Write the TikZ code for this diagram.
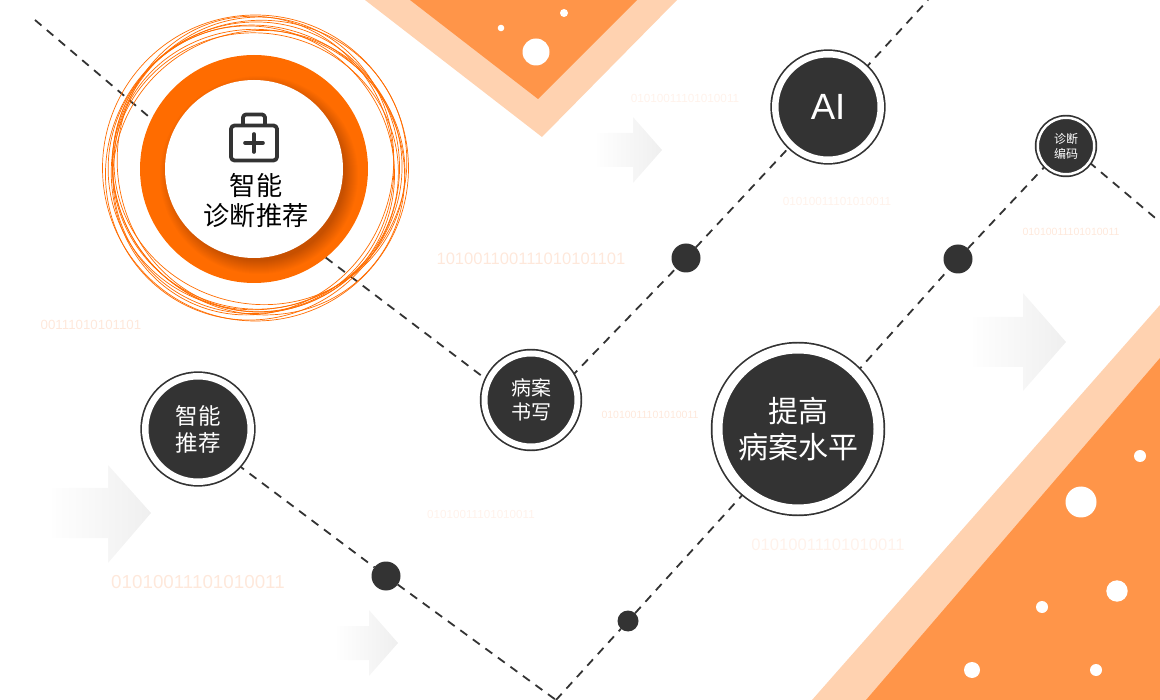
\documentclass[tikz,border=0pt]{standalone}
\usepackage{fontspec}
\usepackage{xcolor}
\usepackage{tikz}
\usetikzlibrary{backgrounds}
\setmainfont{Noto Sans CJK SC}
\newfontfamily\binfont{Liberation Sans}
\definecolor{ink}{HTML}{333333}
\definecolor{flame}{HTML}{FF6C00}
\definecolor{peach}{HTML}{FF9549}
\definecolor{cream}{HTML}{FFD2B0}
\definecolor{bitsoft}{HTML}{FEE8DB}
\definecolor{bitpale}{HTML}{FFF2EB}
\definecolor{ghost}{HTML}{EFEFEF}
\definecolor{ghostfade}{HTML}{FEFEFE}

\begin{document}
\begin{tikzpicture}[
  x=1pt,y=-1pt,
  hub/.style 2 args={circle,fill=ink,draw=ink,line width=1.7pt,double=white,
                     double distance=#2,inner sep=0pt,outer sep=0pt,
                     minimum size=#1,align=center,text=white},
  dot/.style={circle,fill=ink,inner sep=0pt,outer sep=0pt,minimum size=#1},
  speck/.style={circle,fill=white,inner sep=0pt,outer sep=0pt,minimum size=#1},
  bits/.style={font=\binfont\fontsize{#1}{#1}\selectfont,inner sep=0pt},
  label/.style 2 args={font=\fontsize{#1}{#2}\selectfont},
  trail/.style={draw=ink,line width=1.8pt,dash pattern=on 8.5pt off 7pt},
  ghostarrow/.style={left color=ghostfade,right color=ghost,draw=none},
  scribble/.style={draw=flame,line width=0.7pt},
  tool/.style={draw=ink,line width=3.8pt,line join=round},
]
\useasboundingbox (0,0) rectangle (1160,700);

% stations
\node[circle,fill=flame,inner sep=0pt,outer sep=0pt,minimum size=228pt] (diag) at (254,169) {};
\foreach \r in {86,87,...,99}
  \fill[black,opacity=0.015] (259,175) circle (\r);
\node[circle,fill=white,inner sep=0pt,outer sep=0pt,minimum size=178pt] (diagin) at (254,169) {};
\node[hub={105.5pt}{6.5pt}] (ai) at (828,107) {\binfont\fontsize{36.5}{36.5}\selectfont AI};
\node[hub={56.5pt}{2.5pt},label={12}{15}] (code) at (1066,146) {诊断\\编码};
\node[hub={93pt}{6pt},label={20}{24}] (record) at (531,400) {病案\\书写};
\node[hub={105.5pt}{6.5pt},label={22.5}{27}] (recommend) at (198,429) {智能\\推荐};
\node[hub={161pt}{10pt},label={30}{36}] (raise) at (798,429) {提高\\病案水平};

\node[dot=29pt] (dota) at (686,258) {};
\node[dot=29pt] (dotb) at (958,259) {};
\node[dot=29pt] (dotc) at (386,576) {};
\node[dot=21pt] (dotd) at (628,621) {};

\coordinate (entry) at (35,20);
\coordinate (valley) at (556,700);
\coordinate (topexit) at (928,0);
\coordinate (sideexit) at (1160,222);

\begin{scope}[on background layer]
  % corner shapes
  \fill[cream] (365,0) -- (677,0) -- (542,137) -- cycle;
  \fill[peach] (410,0) -- (637,0) -- (538,99) -- cycle;
  \fill[cream] (1160,305) -- (1160,700) -- (812,700) -- cycle;
  \fill[peach] (1160,358) -- (1160,700) -- (866,700) -- cycle;

  % faint arrows
  \shade[ghostarrow] (597,133) -- (633,133) -- (633,117) -- (662,150) -- (633,183) -- (633,167) -- (597,167) -- cycle;
  \shade[ghostarrow] (973,317) -- (1023,317) -- (1023,293) -- (1066,342) -- (1023,391) -- (1023,367) -- (973,367) -- cycle;
  \shade[ghostarrow] (52,488) -- (108,488) -- (108,465) -- (151,513) -- (108,563) -- (108,538) -- (52,538) -- cycle;
  \shade[ghostarrow] (337,626) -- (369,626) -- (369,610) -- (398,643) -- (369,676) -- (369,660) -- (337,660) -- cycle;

  % connectors
  \draw[trail] (entry) -- (diag.154);
  \draw[trail] (diag.-51) -- (record.156);
  \draw[trail] (record.30) -- (dota) -- (ai.226);
  \draw[trail] (ai.46) -- (topexit);
  \draw[trail] (recommend.-42) -- (dotc) -- (valley);
  \draw[trail] (valley) -- (dotd) -- (raise.230);
  \draw[trail] (raise.44) -- (dotb) -- (code.224);
  \draw[trail] (code.-35) -- (sideexit);
\end{scope}

% specks
\node[speck=27pt] (s1) at (536,52) {};
\node[speck=6.6pt] (s2) at (501,28) {};
\node[speck=8pt] (s3) at (564,13) {};
\node[speck=12pt] (s4) at (1140,456) {};
\node[speck=31pt] (s5) at (1081,502) {};
\node[speck=21.4pt] (s6) at (1117,591) {};
\node[speck=12pt] (s7) at (1042,607) {};
\node[speck=16pt] (s8) at (972,670) {};
\node[speck=12pt] (s9) at (1096,670) {};

% binary strings
\node[bits=11.75,text=bitpale] (b1) at (685,98) {01010011101010011};
\node[bits=11.75,text=bitpale] (b2) at (837,201) {01010011101010011};
\node[bits=16.6,text=bitsoft] (b3) at (531,259) {101001100111010101101};
\node[bits=10.5,text=bitsoft] (b4) at (1071,232) {01010011101010011};
\node[bits=13.3,text=bitsoft] (b5) at (91,325) {00111010101101};
\node[bits=10.5,text=bitsoft] (b6) at (650,415) {01010011101010011};
\node[bits=11.65,text=bitpale] (b7) at (481,514) {01010011101010011};
\node[bits=18.8,text=bitsoft] (b8) at (198,582) {01010011101010011};
\node[bits=16.6,text=bitpale] (b9) at (828,545) {01010011101010011};

% hand drawn rings
\foreach \dx/\dy/\rx/\ry/\tilt in {
  0/0/153/153/0, 2/-3/150/144/20, -3/3/146/150/-30, 3/2/142/149/50,
  -3/-2/150/140/70, 2/4/140/146/-60, 0/-4/148/138/100, -2/1/139/145/35,
  4/-1/146/137/-15, 0/3/138/143/80}
  \draw[scribble,rotate around={\tilt:(255.5+\dx,168+\dy)}] (255.5+\dx,168+\dy) ellipse ({\rx} and {\ry});

% case icon
\draw[tool,rounded corners=3.5pt] (231,125.5) rectangle (277,160.5);
\draw[tool,rounded corners=3pt] (243,124) -- (243,114.5) -- (265,114.5) -- (265,124);
\draw[tool,line width=3.6pt,line cap=round] (245,143) -- (263,143) (254,134) -- (254,152);

\node[align=center,text=black,label={26.2}{30},inner sep=0pt] (diaglabel) at (256,200.5) {智能\\诊断推荐};
\end{tikzpicture}
\end{document}
